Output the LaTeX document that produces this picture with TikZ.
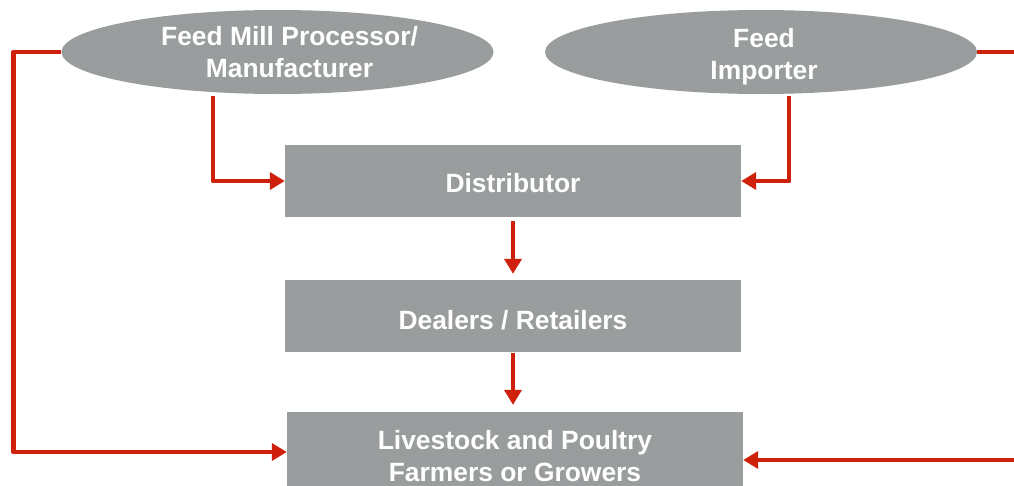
\documentclass[tikz,border=0pt]{standalone}
\usepackage{fontspec}
\setmainfont{Liberation Sans}
\usetikzlibrary{shapes.geometric,arrows.meta}
\definecolor{boxgray}{RGB}{154,157,158}
\definecolor{flowred}{RGB}{206,32,10}
\begin{document}
\begin{tikzpicture}[x=1pt,y=-1pt,
  txt/.style={text=white,font=\bfseries\fontsize{26.4}{31.7}\selectfont,align=center},
  oval/.style={ellipse,fill=boxgray,minimum width=432,minimum height=84,inner sep=0},
  stage/.style={rectangle,fill=boxgray,minimum width=456,minimum height=72,inner sep=0},
  flow/.style={draw=flowred,line width=4.4,line join=round,-{Triangle[length=15,width=17]}}]
  \clip (0,0) rectangle (1014,485);
  \fill[white] (0,0) rectangle (1014,485);

  % sources
  \node[oval,label={[txt,xshift=12]center:Feed Mill Processor/\\Manufacturer}] (mill) at (277.5,52) {};
  \node[oval,label={[txt,xshift=3,yshift=-4.5]center:Feed\\Importer}] (imp) at (761,52) {};

  % chain
  \node[stage,label={[txt,yshift=-2]center:Distributor}] (dist) at (513,181) {};
  \node[stage,label={[txt,yshift=-4]center:Dealers / Retailers}] (deal) at (513,316) {};
  \node[stage,minimum height=88,label={[txt]center:Livestock and Poultry\\Farmers or Growers}] (farm) at (515,456) {};

  % connectors
  \draw[flow] ([xshift=-64.5,yshift=-2]mill.south) |- (dist.west);
  \draw[flow] ([xshift=28,yshift=-2]imp.south) |- (dist.east);
  \draw[flow] ([yshift=-4]dist.south) -- ([yshift=6]deal.north);
  \draw[flow] ([yshift=-1]deal.south) -- ([yshift=7]farm.north -| deal.south);
  \draw[flow] (mill.west) -- ++(-48,0) |- ([yshift=4]farm.west);
  \draw[flow] (imp.east) -- ++(60,0) |- ([yshift=-4]farm.east);
\end{tikzpicture}
\end{document}
